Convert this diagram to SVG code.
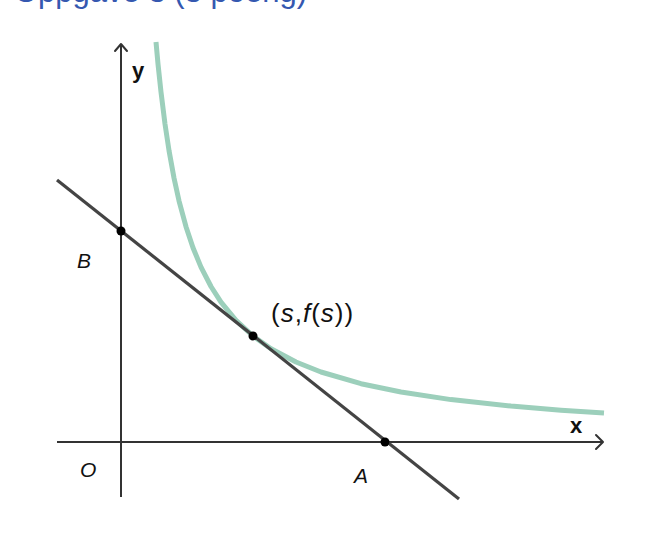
<svg xmlns="http://www.w3.org/2000/svg" width="669" height="539" viewBox="0 0 669 539">
<style>
.axis{stroke:#333;stroke-width:2;fill:none}
.arrow{stroke:#333;stroke-width:2;fill:none;stroke-linecap:round;stroke-linejoin:round}
.tan{stroke:#444;stroke-width:3.2;fill:none}
.curve{stroke:#9ccfbb;stroke-width:5;fill:none;stroke-linejoin:round}
.dot{fill:#000}
.lbl{font-family:"Liberation Sans",Arial,sans-serif;fill:#111}
.it{font-style:italic}
</style>
<rect width="669" height="539" fill="#fff"/>
<text x="14" y="2" font-family="Liberation Sans, Arial, sans-serif" font-size="31" fill="#3558b0">Oppgave 3 (3 poeng)</text>
<g id="axes">
<line class="axis" x1="121" y1="44" x2="121" y2="497"/>
<polyline class="arrow" points="115,51 121,44 127,51"/>
<line class="axis" x1="57" y1="442" x2="603" y2="442"/>
<polyline class="arrow" points="596,435 603,442 596,449"/>
</g>
<g id="curve">
<polyline class="curve" points="156,42 158,64 161,92 165,124 169,150.5 174,178 179,200.8 186,226.7 193,247.7 201,267.1 211,286.5 221,302.1 236,320.3 253,336 271,348.7 296,362 321,372 361,383.7 401,392 451,399.6 511,406.1 561,410.2 604,413"/>
</g>
<g id="connectors">
<line class="tan" x1="57" y1="180" x2="459" y2="499"/>
</g>
<g id="point-B"><circle class="dot" cx="121" cy="231" r="4.5"/></g>
<g id="point-S"><circle class="dot" cx="253" cy="336" r="4.5"/></g>
<g id="point-A"><circle class="dot" cx="385" cy="442" r="4.5"/></g>
<g id="labels">
<text class="lbl" x="132" y="78" font-size="22" font-weight="bold">y</text>
<text class="lbl" x="570" y="433" font-size="22" font-weight="bold">x</text>
<text class="lbl it" x="77" y="268" font-size="21">B</text>
<text class="lbl it" x="80" y="477" font-size="21">O</text>
<text class="lbl it" x="354" y="483" font-size="21">A</text>
<text class="lbl" x="271" y="322" font-size="26" letter-spacing="1">(<tspan class="it">s</tspan>,<tspan class="it">f</tspan>(<tspan class="it">s</tspan>))</text>
</g>
</svg>
